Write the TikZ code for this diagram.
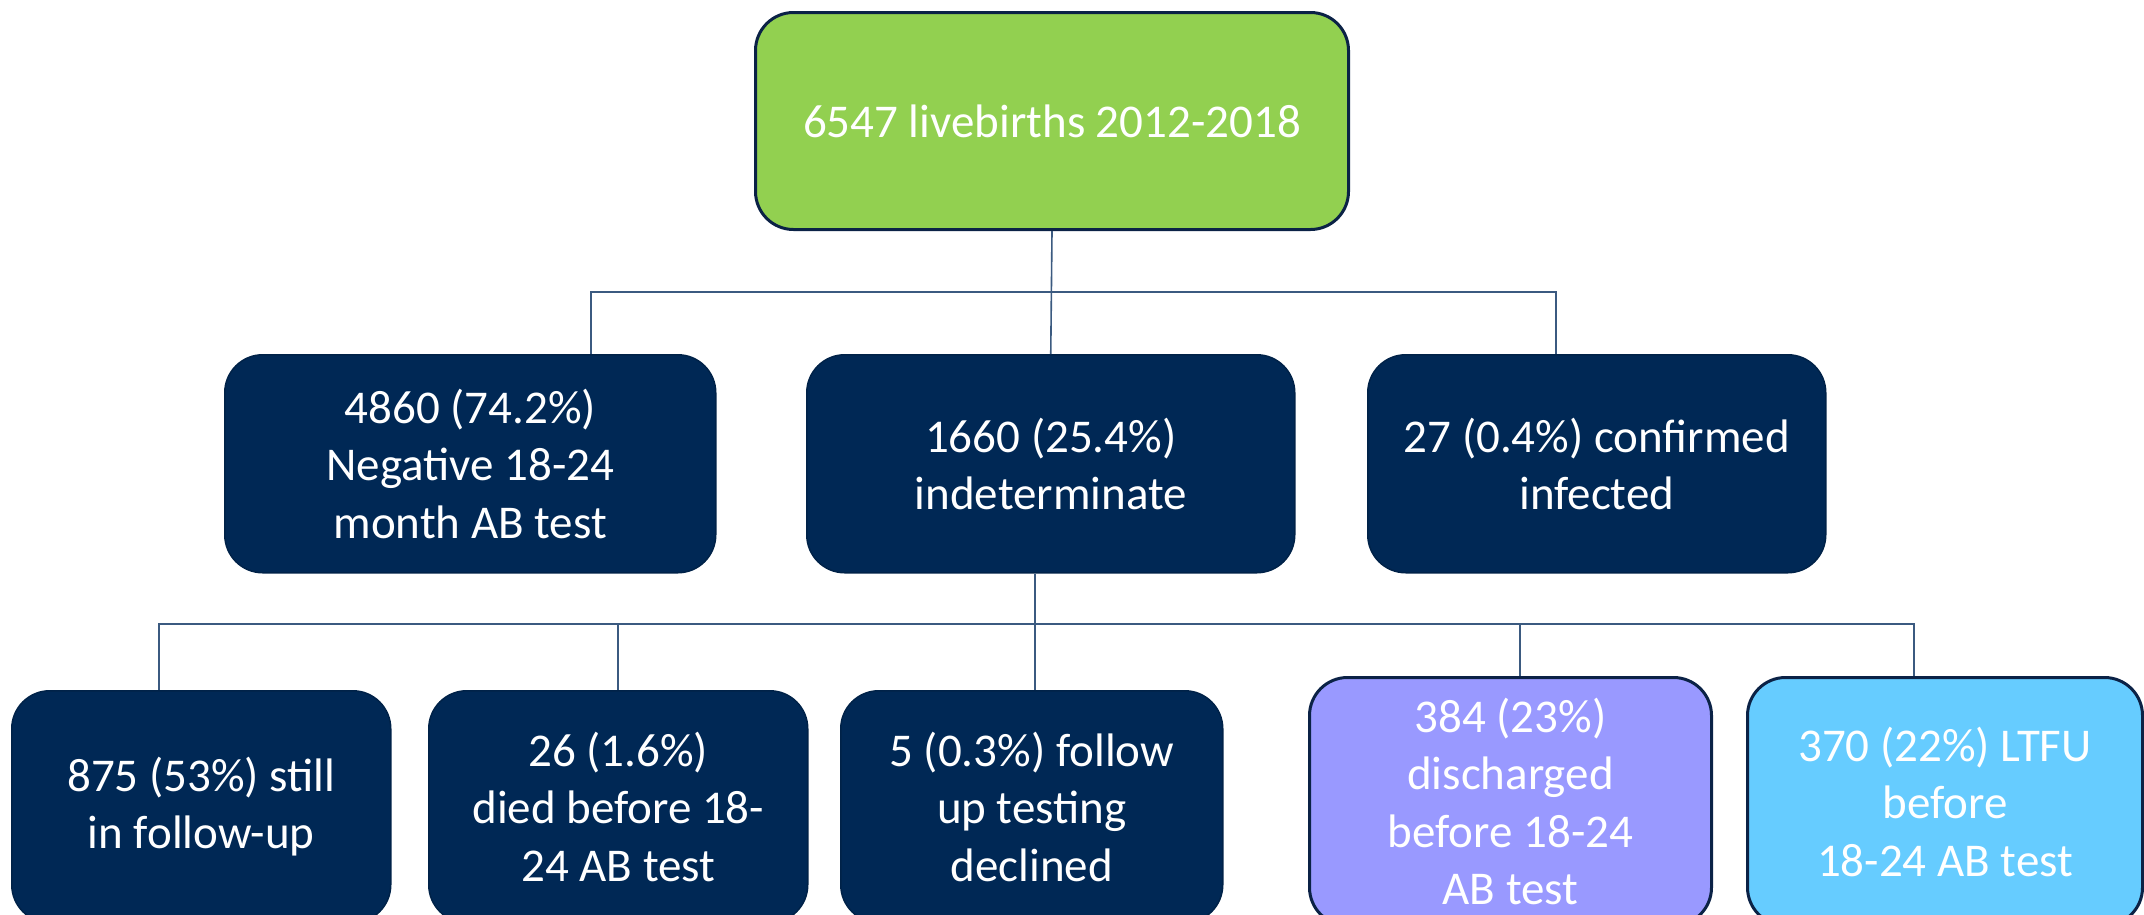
\documentclass[tikz,border=0pt]{standalone}
\usepackage{fontspec}
\setmainfont{Carlito}
\usepackage{tikz}

\definecolor{navyfill}{HTML}{002855}
\definecolor{navyedge}{HTML}{0B2246}
\definecolor{limefill}{HTML}{92D050}
\definecolor{lilacfill}{HTML}{9999FF}
\definecolor{skyfill}{HTML}{66CCFF}
\definecolor{linkblue}{HTML}{3B5A80}

\tikzset{
  flowbox/.style={rectangle, rounded corners=38pt, anchor=north west, inner sep=0pt,
    align=center, text=white, font=\fontsize{47}{57.5}\selectfont},
  navybox/.style={flowbox, fill=navyfill, draw=navyfill!85!black, line width=1.5pt},
  limebox/.style={flowbox, fill=limefill, draw=navyedge, line width=3pt},
  lilacbox/.style={flowbox, fill=lilacfill, draw=navyedge, line width=3pt},
  skybox/.style={flowbox, fill=skyfill, draw=navyedge, line width=3pt},
  link/.style={draw=linkblue, line width=1.6pt},
}

\begin{document}
\begin{tikzpicture}[x=1pt,y=1pt,yscale=-1,xscale=1]
\useasboundingbox (0,0) rectangle (2144,914);
\clip (0,0) rectangle (2144,914);

% Top node
\node [limebox, minimum width=593pt, minimum height=217pt] (birth) at (754,11) {6547 livebirths 2012-2018};

% Second row
\node [navybox, minimum width=491pt, minimum height=218pt] (neg) at (224,354) {4860 (74.2\%)\\Negative 18-24\\month AB test};
\node [navybox, minimum width=488pt, minimum height=218pt] (indet) at (806,354) {1660 (25.4\%)\\indeterminate};
\node [navybox, minimum width=458pt, minimum height=218pt] (conf) at (1367,354) {27 (0.4\%) confirmed\\infected};

% Third row
\node [navybox, minimum width=379pt, minimum height=232pt] (still) at (11,690) {875 (53\%) still\\in follow-up};
\node [navybox, minimum width=379pt, minimum height=232pt] (died) at (428,690) {26 (1.6\%)\\died before 18-\\24 AB test};
\node [navybox, minimum width=382pt, minimum height=232pt] (decl) at (840,690) {5 (0.3\%) follow\\up testing\\declined};
\node [lilacbox, minimum width=402pt, minimum height=248pt] (disch) at (1308,676) {384 (23\%)\\discharged\\before 18-24\\AB test};
\node [skybox, minimum width=395pt, minimum height=248pt] (ltfu) at (1746,676) {370 (22\%) LTFU\\before\\18-24 AB test};

% Bars
\coordinate (barAl) at (591,292);
\coordinate (barAr) at (1556,292);
\coordinate (barBl) at (159,624);
\coordinate (barBr) at (1914,624);
\coordinate (drop) at (1035,624);
\coordinate (dischtap) at (1520,624);

%Straight Lines
\draw [link] (birth.south) -- (indet.north);
\draw [link] (barAl |- neg.north) -- (barAl) -- (barAr) -- (barAr |- conf.north);
\draw [link] (drop |- indet.south) -- (drop |- decl.north);
\draw [link] (barBl |- still.north) -- (barBl) -- (barBr) -- (barBr |- ltfu.north);
\draw [link] (died.north) -- (died.north |- barBl);
\draw [link] (dischtap) -- (dischtap |- disch.north);

\end{tikzpicture}
\end{document}
